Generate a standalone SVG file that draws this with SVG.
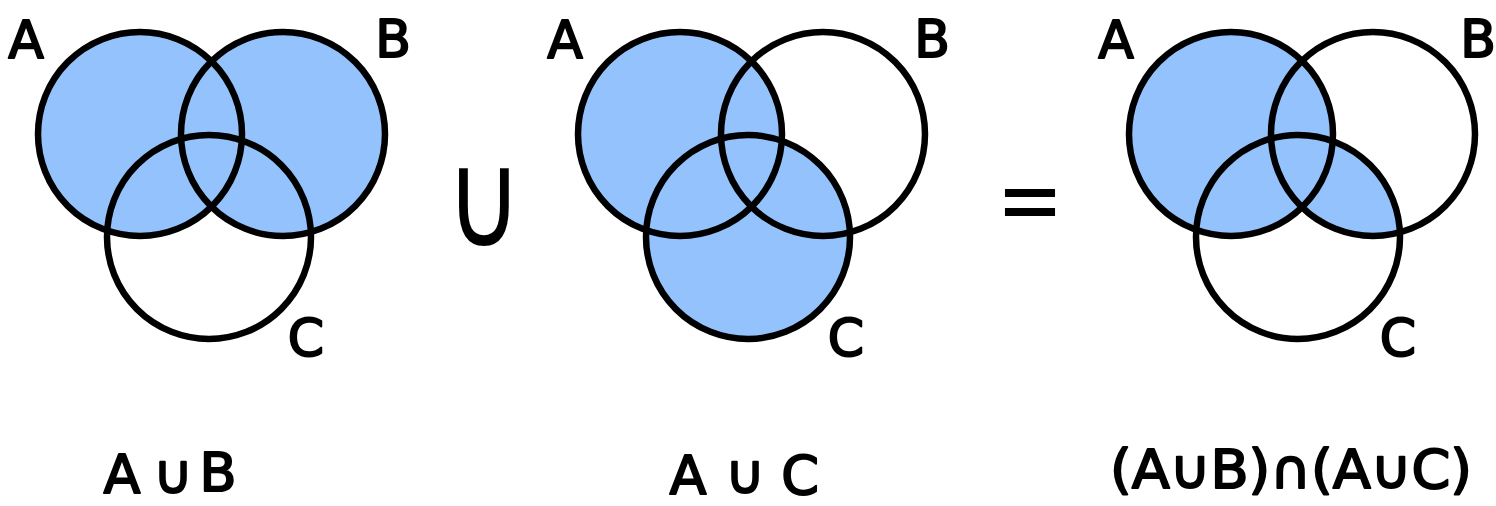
<svg xmlns="http://www.w3.org/2000/svg" width="1496" height="506" viewBox="0 0 1496 506">
<style>
.fill{fill:#94c2fc;stroke:none}
.ring{fill:none;stroke:#000;stroke-width:6.5}
.lbl{font-family:"DejaVu Sans",sans-serif;font-size:52px;fill:#000;stroke:#000;stroke-width:2;stroke-linejoin:round}
.cap{font-family:"DejaVu Sans",sans-serif;font-size:54px;fill:#000;stroke:#000;stroke-width:2;stroke-linejoin:round}
.sym{font-family:"DejaVu Sans",sans-serif;fill:#000}
</style>
<defs>
<clipPath id="clipC3"><circle cx="1298" cy="237" r="102"/></clipPath>
</defs>
<rect width="1496" height="506" fill="#fff"/>

<g id="venn1">
  <g id="v1-fill">
    <circle class="fill" cx="140" cy="134" r="102"/>
    <circle class="fill" cx="283" cy="134" r="102"/>
  </g>
  <g id="v1-A"><circle class="ring" cx="140" cy="134" r="102"/><text class="lbl" x="26" y="58" text-anchor="middle">A</text></g>
  <g id="v1-B"><circle class="ring" cx="283" cy="134" r="102"/><text class="lbl" x="393" y="57" text-anchor="middle">B</text></g>
  <g id="v1-C"><circle class="ring" cx="209" cy="237" r="102"/><text class="lbl" x="306" y="356" font-size="44" text-anchor="middle">C</text></g>
  <g id="v1-caption">
    <text class="cap" x="122" y="493" text-anchor="middle">A</text>
    <text class="cap" x="173" y="493" font-size="72" text-anchor="middle">∪</text>
    <text class="cap" x="218" y="491" text-anchor="middle">B</text>
  </g>
</g>

<g id="op-union"><text class="sym" font-size="110" x="484" y="238" text-anchor="middle" transform="translate(484 200) scale(0.95 1.22) translate(-484 -200)">∪</text></g>

<g id="venn2">
  <g id="v2-fill">
    <circle class="fill" cx="680" cy="134" r="102"/>
    <circle class="fill" cx="748" cy="237" r="102"/>
  </g>
  <g id="v2-A"><circle class="ring" cx="680" cy="134" r="102"/><text class="lbl" x="565" y="58" text-anchor="middle">A</text></g>
  <g id="v2-B"><circle class="ring" cx="823" cy="134" r="102"/><text class="lbl" x="932" y="57" text-anchor="middle">B</text></g>
  <g id="v2-C"><circle class="ring" cx="748" cy="237" r="102"/><text class="lbl" x="846" y="356" font-size="44" text-anchor="middle">C</text></g>
  <g id="v2-caption">
    <text class="cap" x="688" y="494" text-anchor="middle">A</text>
    <text class="cap" x="745" y="493" font-size="64" text-anchor="middle">∪</text>
    <text class="cap" x="800" y="494" text-anchor="middle">C</text>
  </g>
</g>

<g id="op-equals"><text class="sym" font-size="80" x="1030" y="228" text-anchor="middle" transform="translate(1030 203) scale(1 1.2) translate(-1030 -203)">=</text></g>

<g id="venn3">
  <g id="v3-fill">
    <circle class="fill" cx="1231" cy="134" r="102"/>
    <circle class="fill" cx="1373" cy="134" r="102" clip-path="url(#clipC3)"/>
  </g>
  <g id="v3-A"><circle class="ring" cx="1231" cy="134" r="102"/><text class="lbl" x="1116" y="58" text-anchor="middle">A</text></g>
  <g id="v3-B"><circle class="ring" cx="1373" cy="134" r="102"/><text class="lbl" x="1478" y="57" text-anchor="middle">B</text></g>
  <g id="v3-C"><circle class="ring" cx="1298" cy="237" r="102"/><text class="lbl" x="1398" y="356" font-size="44" text-anchor="middle">C</text></g>
  <g id="v3-caption"><text class="cap" y="488" textLength="362" lengthAdjust="spacingAndGlyphs" x="1110">(A∪B)∩(A∪C)</text></g>
</g>
</svg>
